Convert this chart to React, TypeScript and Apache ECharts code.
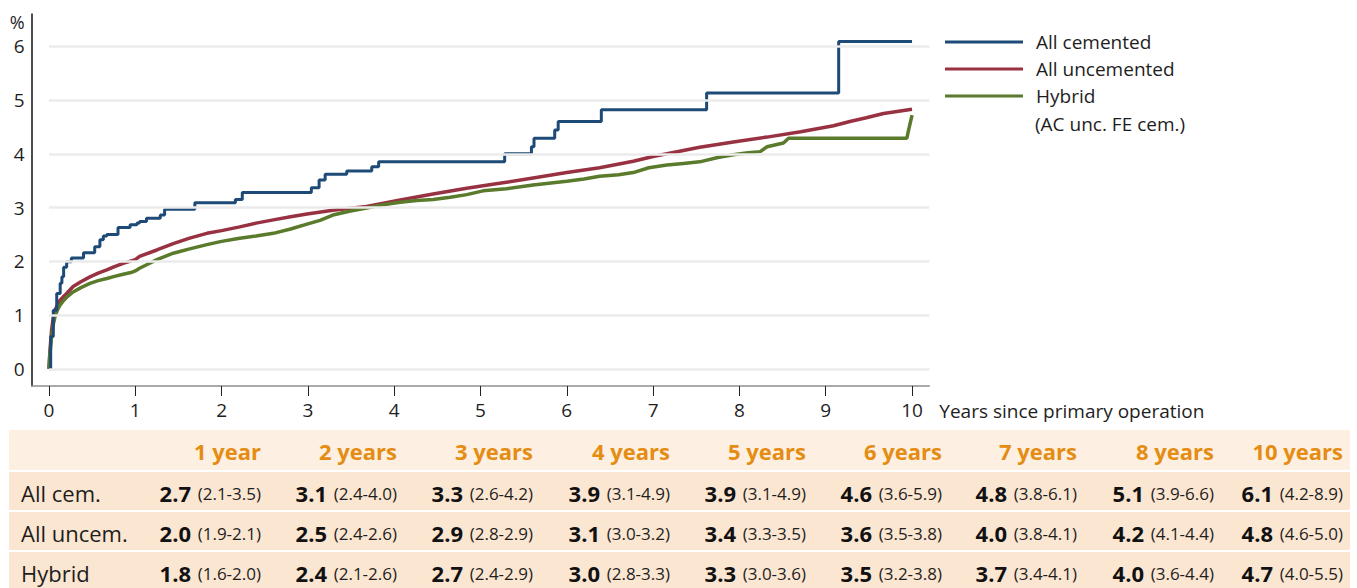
import React, { useEffect, useRef } from 'react';
import * as echarts from 'echarts';

// ---------- data ----------
const cementedYears = [0, 0.02, 0.05, 0.09, 0.13, 0.15, 0.17, 0.205, 0.26, 0.4, 0.53, 0.59, 0.63, 0.67, 0.8, 0.94, 1.02, 1.05, 1.13, 1.29, 1.34, 1.69, 2.16, 2.24, 3.04, 3.13, 3.2, 3.45, 3.74, 3.82, 5.28, 5.59, 5.62, 5.86, 5.9, 6.4, 7.62, 9.15, 10.0];
const cementedPct = [0, 0.6, 1.09, 1.4, 1.59, 1.71, 1.89, 1.99, 2.06, 2.16, 2.27, 2.4, 2.47, 2.5, 2.63, 2.68, 2.71, 2.74, 2.8, 2.86, 2.97, 3.09, 3.15, 3.28, 3.37, 3.51, 3.62, 3.68, 3.76, 3.85, 4.0, 4.13, 4.29, 4.44, 4.6, 4.82, 5.13, 6.09, 6.09];

const uncementedYears = [0, 0.01, 0.03, 0.05, 0.07, 0.1, 0.127, 0.16, 0.205, 0.28, 0.37, 0.475, 0.57, 0.67, 0.76, 0.86, 1.0, 1.05, 1.25, 1.44, 1.63, 1.83, 2.0, 2.21, 2.4, 2.6, 2.8, 2.99, 3.29, 3.68, 4.07, 4.45, 4.84, 5.22, 5.61, 6.0, 6.38, 6.77, 7.0, 7.16, 7.54, 7.93, 8.32, 8.71, 9.09, 9.28, 9.47, 9.67, 10.0];
const uncementedPct = [0, 0.3, 0.72, 0.95, 1.09, 1.19, 1.27, 1.33, 1.4, 1.53, 1.62, 1.71, 1.78, 1.84, 1.9, 1.96, 2.03, 2.09, 2.21, 2.33, 2.43, 2.52, 2.57, 2.64, 2.71, 2.77, 2.83, 2.88, 2.95, 3.02, 3.14, 3.25, 3.36, 3.45, 3.55, 3.65, 3.74, 3.86, 3.95, 4.0, 4.12, 4.22, 4.31, 4.41, 4.52, 4.6, 4.67, 4.75, 4.83];

const hybridYears = [0, 0.01, 0.03, 0.05, 0.07, 0.1, 0.13, 0.17, 0.21, 0.28, 0.37, 0.475, 0.57, 0.67, 0.76, 0.86, 0.95, 1.0, 1.05, 1.15, 1.25, 1.44, 1.63, 1.83, 2.0, 2.21, 2.4, 2.6, 2.8, 2.99, 3.14, 3.29, 3.48, 3.68, 3.87, 4.07, 4.26, 4.45, 4.65, 4.84, 5.03, 5.3, 5.61, 6.0, 6.2, 6.38, 6.6, 6.77, 6.95, 7.16, 7.35, 7.54, 7.75, 7.93, 8.1, 8.24, 8.32, 8.51, 8.57, 9.94, 9.96, 10.0];
const hybridPct = [0, 0.25, 0.6, 0.82, 0.97, 1.1, 1.19, 1.27, 1.34, 1.43, 1.51, 1.59, 1.64, 1.68, 1.72, 1.76, 1.79, 1.82, 1.87, 1.95, 2.03, 2.15, 2.23, 2.31, 2.37, 2.43, 2.47, 2.52, 2.6, 2.69, 2.76, 2.86, 2.93, 2.99, 3.05, 3.1, 3.13, 3.15, 3.19, 3.24, 3.31, 3.35, 3.42, 3.49, 3.53, 3.58, 3.61, 3.65, 3.74, 3.79, 3.82, 3.85, 3.93, 3.98, 4.02, 4.04, 4.13, 4.2, 4.29, 4.29, 4.44, 4.72];

const seriesNames = ['All cemented', 'All uncemented', 'Hybrid'];
const hybridNote = '(AC unc. FE cem.)';
const xTicks = [0, 1, 2, 3, 4, 5, 6, 7, 8, 9, 10];
const yTicks = [0, 1, 2, 3, 4, 5, 6];
const xAxisName = 'Years since primary operation';
const yAxisName = '%';

const tableHeaders = ['1 year', '2 years', '3 years', '4 years', '5 years', '6 years', '7 years', '8 years', '10 years'];
const rowLabels = ['All cem.', 'All uncem.', 'Hybrid'];
const cemValues = ['2.7', '3.1', '3.3', '3.9', '3.9', '4.6', '4.8', '5.1', '6.1'];
const cemCI = ['2.1-3.5', '2.4-4.0', '2.6-4.2', '3.1-4.9', '3.1-4.9', '3.6-5.9', '3.8-6.1', '3.9-6.6', '4.2-8.9'];
const uncemValues = ['2.0', '2.5', '2.9', '3.1', '3.4', '3.6', '4.0', '4.2', '4.8'];
const uncemCI = ['1.9-2.1', '2.4-2.6', '2.8-2.9', '3.0-3.2', '3.3-3.5', '3.5-3.8', '3.8-4.1', '4.1-4.4', '4.6-5.0'];
const hybValues = ['1.8', '2.4', '2.7', '3.0', '3.3', '3.5', '3.7', '4.0', '4.7'];
const hybCI = ['1.6-2.0', '2.1-2.6', '2.4-2.9', '2.8-3.3', '3.0-3.6', '3.2-3.8', '3.4-4.1', '3.6-4.4', '4.0-5.5'];

// ---------- styles / layout ----------
const FONT = 'Open Sans';
const TEXT = '#1e1e1e';
const COLORS = ['#1d4a76', '#983141', '#5a7a2c'];
const ORANGE = '#e58c12';
const colRight = [261, 397, 533, 670, 806, 942, 1077, 1214, 1343];
const rowCenters = [451, 493, 533, 573];

const zip = (xs: number[], ys: number[]) => xs.map((x, i) => [x, ys[i]]);

function buildTable(): any[] {
  const els: any[] = [];
  els.push({ type: 'rect', shape: { x: 9, y: 430, width: 1341, height: 40 }, style: { fill: '#fdf0e2' }, silent: true });
  const rowTops = [472, 512, 552];
  rowTops.forEach((t, i) => {
    els.push({ type: 'rect', shape: { x: 9, y: t, width: 1341, height: i === 2 ? 40 : 38 }, style: { fill: '#fbe6d1' }, silent: true });
  });
  tableHeaders.forEach((h, i) => {
    els.push({
      type: 'text', silent: true,
      style: { text: h, x: colRight[i], y: rowCenters[0], align: 'right', verticalAlign: 'middle', fill: ORANGE, font: `bold 22px "${FONT}"` },
    });
  });
  const vals = [cemValues, uncemValues, hybValues];
  const cis = [cemCI, uncemCI, hybCI];
  rowLabels.forEach((lab, r) => {
    els.push({
      type: 'text', silent: true,
      style: { text: lab, x: 21, y: rowCenters[r + 1], align: 'left', verticalAlign: 'middle', fill: TEXT, font: `22px "${FONT}"` },
    });
    vals[r].forEach((v, c) => {
      els.push({
        type: 'text', silent: true,
        style: {
          text: `{b|${v}}  {s|(${cis[r][c]})}`,
          x: colRight[c], y: rowCenters[r + 1], align: 'right', verticalAlign: 'middle',
          rich: {
            b: { fontFamily: FONT, fontWeight: 'bold', fontSize: 22, fill: '#111' },
            s: { fontFamily: FONT, fontSize: 17, fill: TEXT },
          },
        },
      });
    });
  });
  return els;
}

export default function App() {
  const ref = useRef<HTMLDivElement>(null);
  useEffect(() => {
    document.body.style.margin = '0';
    if (!ref.current) return;
    const chart = echarts.init(ref.current, null, { renderer: 'svg' });
    const option: any = {
      animation: false,
      backgroundColor: '#ffffff',
      textStyle: { fontFamily: FONT },
      grid: { left: 31.7, right: 427.7, top: 14, bottom: 202, containLabel: false, outerBoundsMode: 'none' },
      legend: {
        orient: 'vertical', left: 945, top: 32, padding: 0,
        itemWidth: 78, itemHeight: 3, itemGap: 7, icon: 'rect',
        data: seriesNames,
        selectedMode: false,
        textStyle: { fontSize: 19, color: TEXT, fontFamily: FONT, lineHeight: 20, padding: [0, 0, 0, 8] },
      },
      xAxis: {
        type: 'value', min: -0.2, max: 10.2,
        axisLine: { show: true, onZero: false, lineStyle: { color: '#8f8f8f', width: 1.5 } },
        axisTick: { show: true, customValues: xTicks, length: 10, lineStyle: { color: '#222', width: 1 } },
        axisLabel: { customValues: xTicks, fontSize: 19, color: TEXT, margin: 14, fontFamily: FONT },
        splitLine: { show: false },
        name: xAxisName, nameLocation: 'end', nameGap: 10,
        nameTextStyle: { fontSize: 19, color: TEXT, fontFamily: FONT, verticalAlign: 'top', lineHeight: 19, padding: [15, 0, 0, 0] },
      },
      yAxis: {
        type: 'value', min: -0.32, max: 6.6,
        axisLine: { show: true, onZero: false, lineStyle: { color: '#111', width: 1.5 } },
        axisTick: { show: false },
        axisLabel: { customValues: yTicks, fontSize: 19, color: TEXT, margin: 7, fontFamily: FONT },
        splitLine: { show: false },
        name: yAxisName, nameLocation: 'end', nameGap: -8,
        nameTextStyle: { fontSize: 18, color: TEXT, fontFamily: FONT, align: 'right', verticalAlign: 'middle', padding: [0, 7, 0, 0] },
      },
      series: [
        {
          type: 'line', name: 'gridlines', data: [[0, 0]], showSymbol: false, silent: true,
          lineStyle: { opacity: 0 }, z: 1,
          markLine: {
            silent: true, symbol: ['none', 'none'], label: { show: false },
            lineStyle: { color: '#ebebeb', width: 2.5, type: 'solid' },
            emphasis: { disabled: true },
            data: yTicks.map((v) => [{ coord: [0, v] }, { coord: [10.2, v] }]),
          },
        },
        {
          type: 'line', name: seriesNames[0], data: zip(cementedYears, cementedPct), step: 'end',
          showSymbol: false, symbol: 'none', color: COLORS[0], lineStyle: { width: 3, color: COLORS[0] }, z: 4,
          emphasis: { disabled: true },
        },
        {
          type: 'line', name: seriesNames[1], data: zip(uncementedYears, uncementedPct),
          showSymbol: false, symbol: 'none', color: COLORS[1], lineStyle: { width: 3.5, color: COLORS[1] }, z: 3,
          emphasis: { disabled: true },
        },
        {
          type: 'line', name: seriesNames[2], data: zip(hybridYears, hybridPct),
          showSymbol: false, symbol: 'none', color: COLORS[2], lineStyle: { width: 3.5, color: COLORS[2] }, z: 3,
          emphasis: { disabled: true },
        },
      ],
      graphic: [
        {
          type: 'text', silent: true,
          style: { text: hybridNote, x: 1035, y: 124, align: 'left', verticalAlign: 'middle', fill: TEXT, font: `19px "${FONT}"` },
        },
        ...buildTable(),
      ],
    };
    chart.setOption(option);
    return () => chart.dispose();
  }, []);
  return <div ref={ref} style={{ width: 1357, height: 588 }} />;
}
